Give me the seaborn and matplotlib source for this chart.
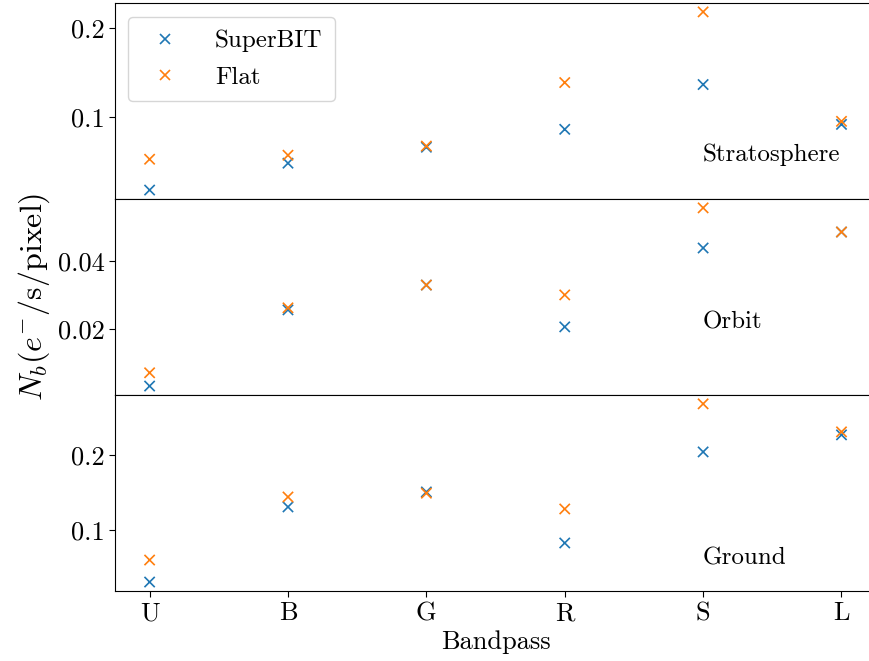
import matplotlib
matplotlib.use("Agg")
import matplotlib.pyplot as plt
import seaborn as sns
import pandas as pd

bands = ['U', 'B', 'G', 'R', 'S', 'L']
series_names = ['SuperBIT', 'Flat']

strat_superbit = [0.0189, 0.0489, 0.0667, 0.0867, 0.1367, 0.0922]
strat_flat = [0.0533, 0.0578, 0.0680, 0.1389, 0.2178, 0.0956]
orbit_superbit = [0.0032, 0.0256, 0.0329, 0.0206, 0.0438, 0.0485]
orbit_flat = [0.0071, 0.0262, 0.0329, 0.0300, 0.0556, 0.0485]
ground_superbit = [0.0307, 0.1307, 0.1507, 0.0827, 0.2040, 0.2267]
ground_flat = [0.0600, 0.1440, 0.1490, 0.1280, 0.2680, 0.2307]

panel_names = ['Stratosphere', 'Orbit', 'Ground']
panel_ticks = [[0.1, 0.2], [0.02, 0.04], [0.1, 0.2]]
panel_data = [(strat_superbit, strat_flat), (orbit_superbit, orbit_flat),
              (ground_superbit, ground_flat)]

plt.rcParams.update({
    'font.family': 'serif',
    'font.serif': ['cmr10', 'DejaVu Serif'],
    'mathtext.fontset': 'cm',
    'axes.unicode_minus': False,
    'axes.formatter.use_mathtext': True,
})

fig, axes = plt.subplots(3, 1, sharex=True, figsize=(8.7, 6.61), dpi=100)
fig.subplots_adjust(left=0.1322, right=1.007, bottom=0.106, top=0.9955, hspace=0)

palette = {'SuperBIT': '#1f77b4', 'Flat': '#ff7f0e'}
label_y = [0.225, 0.37, 0.165]

for i, (ax, name, ticks, (sb, fl)) in enumerate(zip(axes, panel_names, panel_ticks, panel_data)):
    df = pd.DataFrame({
        'band': bands * 2,
        'value': list(sb) + list(fl),
        'series': ['SuperBIT'] * len(bands) + ['Flat'] * len(bands),
    })
    sns.scatterplot(data=df, x='band', y='value', hue='series', palette=palette,
                    marker='x', s=55, linewidth=1.2, ax=ax, legend=(i == 0))
    ax.set_yticks(ticks)
    ax.set_yticklabels([f'{t:g}' for t in ticks])
    ax.tick_params(axis='y', labelsize=19, length=4)
    ax.set_ylabel('')
    ax.set_xlabel('')
    ax.text(4.0, label_y[i], name, transform=ax.get_xaxis_transform(),
            fontsize=18, ha='left', va='center')
    if i < 2:
        ax.tick_params(axis='x', bottom=False)

axes[0].legend(loc='upper left', fontsize=18, handletextpad=1.0, borderpad=0.5,
               labelspacing=0.55, markerscale=1.0, bbox_to_anchor=(0.0, 0.99))
axes[1].set_ylabel(r'$N_b(e^{-}/\mathrm{s/pixel})$', fontsize=23)
axes[2].set_xlabel('Bandpass', fontsize=19)
axes[2].tick_params(axis='x', labelsize=19, length=4)

fig.savefig('out.png', dpi=100)
